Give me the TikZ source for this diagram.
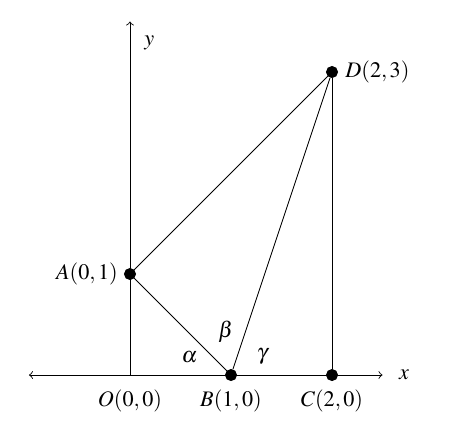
\documentclass[tikz,border=0pt]{standalone}
\usepackage{mathptmx}
\begin{document}
\begin{tikzpicture}[x=1.6cm, y=1.6cm,
  vertex/.style={circle, black, draw, fill=black, inner sep=0pt, minimum size=5pt}]
\useasboundingbox (-1.287,-0.564) rectangle (3.198,3.713);

\draw[<->] (-1,0) -- (2.5,0) node[right=4pt](xl){$x$};
\draw[->] (0,0) -- (0,3.5) node[below right, xshift=3pt, yshift=-3pt](yl){$y$};

\draw 
(0, 0) coordinate(o)
(0, 1) node[vertex](a){}
(1, 0) node[vertex](b){}
(2, 0) node[vertex](c){}
(2, 3) node[vertex](d){};

\node[below=3pt] (lo) at (o) {$O(0,0)$};
\node[below=3pt] (lb) at (b.center) {$B(1,0)$};
\node[below=3pt] (lc) at (c.center) {$C(2,0)$};
\node[left=2pt] (la) at (a.center) {$A(0,1)$};
\node[right=2.5pt] (ld) at (d.center) {$D(2,3)$};

\draw[-] (a) -- (d);
\draw[-] (a) -- (b);
\draw[-] (b) -- (d);
\draw[-] (c) -- (d);

\node (alpha) at (0.59,0.18) {$\alpha$};
\node (beta) at (0.95,0.43) {$\beta$};
\node (gamma) at (1.31,0.18) {$\gamma$};

\end{tikzpicture}
\end{document}
